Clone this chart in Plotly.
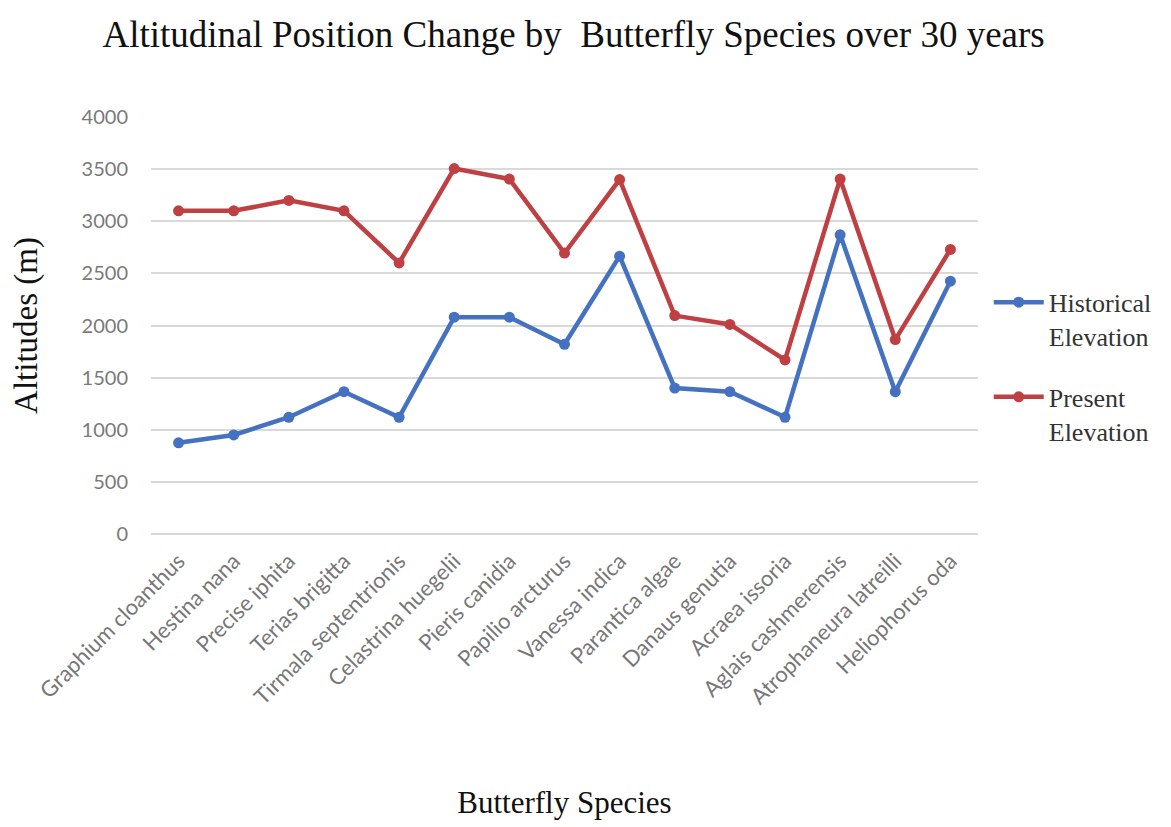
import plotly.graph_objects as go

species = ["Graphium cloanthus", "Hestina nana", "Precise iphita", "Terias brigitta",
           "Tirmala septentrionis", "Celastrina huegelii", "Pieris canidia", "Papilio arcturus",
           "Vanessa indica", "Parantica algae", "Danaus genutia", "Acraea issoria",
           "Aglais cashmerensis", "Atrophaneura latreilli", "Heliophorus oda"]
historical = [875, 950, 1120, 1365, 1120, 2080, 2080, 1820, 2665, 1400, 1365, 1120, 2870, 1365, 2425]
present = [3100, 3100, 3200, 3100, 2600, 3505, 3405, 2695, 3400, 2095, 2010, 1670, 3405, 1865, 2730]
y_ticks = [0, 500, 1000, 1500, 2000, 2500, 3000, 3500, 4000]

serif = "Liberation Serif, Times New Roman, serif"
sans = "Lato, Open Sans, sans-serif"
blue = "#4572C0"
red = "#BF4043"

fig = go.Figure()
fig.add_trace(go.Scatter(x=species, y=historical, name="Historical<br>Elevation",
                         mode="lines+markers", legendgroup="h",
                         line=dict(color=blue, width=4.5),
                         marker=dict(color=blue, size=11)))
fig.add_trace(go.Scatter(x=species, y=present, name="Present<br>Elevation",
                         mode="lines+markers", legendgroup="p",
                         line=dict(color=red, width=4.5),
                         marker=dict(color=red, size=11)))

fig.update_layout(
    width=1171, height=827,
    paper_bgcolor="white", plot_bgcolor="white",
    margin=dict(l=143, r=201, t=109, b=301),
    title=dict(text="Altitudinal Position Change by  Butterfly Species over 30 years",
               x=0.483, xanchor="center", y=0.969, yanchor="middle",
               font=dict(family=serif, size=37, color="#111111")),
    legend=dict(x=1.013, xanchor="left", y=0.612, yanchor="top", valign="top",
                font=dict(family=serif, size=26, color="#333333"),
                tracegroupgap=24, itemwidth=50, bgcolor="rgba(0,0,0,0)"),
    showlegend=True,
)
fig.update_xaxes(
    range=[-0.5, len(species) - 0.5],
    tickangle=-45, tickfont=dict(family=sans, size=22, color="#777777"),
    showgrid=False, showline=False, ticks="", automargin=False, ticklabelstandoff=9,
    title=dict(text="Butterfly Species", font=dict(family=serif, size=31, color="#111111"),
               standoff=82),
)
fig.update_yaxes(
    range=[0, 4000], tickvals=y_ticks,
    tickfont=dict(family=sans, size=20, color="#7a7a7a"),
    showgrid=True, gridcolor="#D9D9D9", gridwidth=2,
    zeroline=True, zerolinecolor="#D9D9D9", zerolinewidth=2,
    showline=False, ticks="", ticklabelstandoff=22, automargin=False,
    title=dict(text="Altitudes (m)", font=dict(family=serif, size=33, color="#111111"),
               standoff=38),
)

fig.write_html("out.html")
